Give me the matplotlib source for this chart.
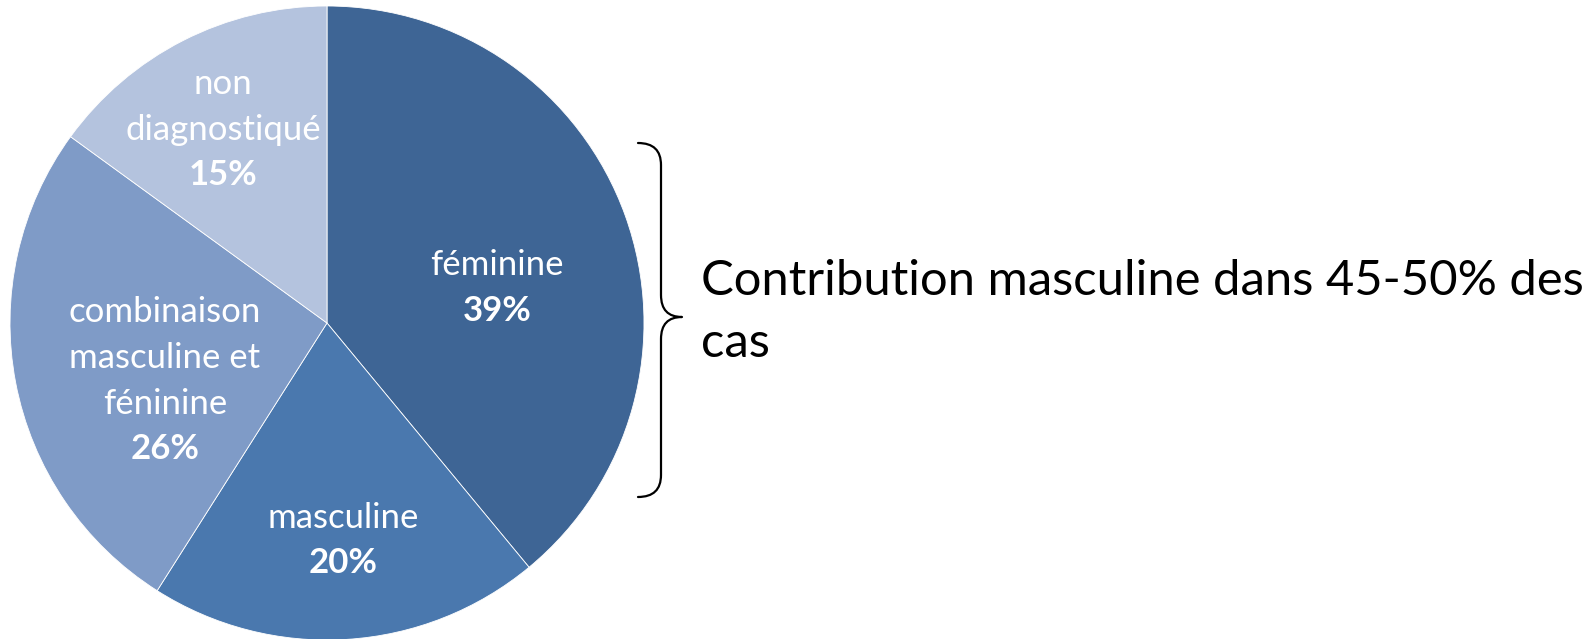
import numpy as np
import matplotlib
matplotlib.use('Agg')
import matplotlib.pyplot as plt
from matplotlib.path import Path
from matplotlib.patches import PathPatch

# ── Data ──────────────────────────────────────────────────────────────
categories = ['féminine', 'masculine', 'combinaison\nmasculine et\nféninine', 'non\ndiagnostiqué']
shares     = [39, 20, 26, 15]
colors     = ['#3E6595', '#4A78AE', '#7F9BC7', '#B4C3DE']
note_text  = 'Contribution masculine dans 45-50% des\ncas'

# label placement (fraction of radius, angle in degrees)
label_pos = [(0.55, 12.5), (0.68, -85.8), (0.54, 198.8), (0.70, 118.0)]

W, H = 1594, 639
CX, CY, R = 327, 323, 317
LABEL_FS = 25
LINE_STEP = 33   # points between label lines

def px(x, y):
    # pixel position -> pie units
    return (x - CX) / R, (CY - y) / R

plt.rcParams['font.family'] = ['Lato', 'DejaVu Sans']
fig = plt.figure(figsize=(W / 100, H / 100), dpi=100)
ax = fig.add_axes([0, 0, 1, 1])

ax.pie(shares, colors=colors, startangle=90, counterclock=False,
       radius=1.0, wedgeprops=dict(edgecolor='white', linewidth=0.6))
ax.set_aspect('auto')
x0, _ = px(0, 0)
x1, _ = px(W, 0)
_, y0 = px(0, H)
_, y1 = px(0, 0)
ax.set_xlim(x0, x1)
ax.set_ylim(y0, y1)
ax.axis('off')

for name, pct, (r, ang) in zip(categories, shares, label_pos):
    lx = r * np.cos(np.radians(ang))
    ly = r * np.sin(np.radians(ang))
    lines = name.split('\n') + [f'{pct}%']
    n = len(lines)
    for i, line in enumerate(lines):
        dy = ((n - 1) / 2 - i) * LINE_STEP - 0.36 * LABEL_FS
        ax.annotate(line, (lx, ly), xytext=(0, dy), textcoords='offset points',
                    ha='center', va='baseline', color='white', fontsize=LABEL_FS,
                    fontweight='bold' if i == n - 1 else 'normal')

# curly bracket
verts = [px(638, 143), px(661, 143), px(661, 165),
         px(661, 295),
         px(661, 317), px(682, 317),
         px(661, 317), px(661, 339),
         px(661, 475),
         px(661, 497), px(638, 497)]
codes = [Path.MOVETO, Path.CURVE3, Path.CURVE3,
         Path.LINETO,
         Path.CURVE3, Path.CURVE3,
         Path.CURVE3, Path.CURVE3,
         Path.LINETO,
         Path.CURVE3, Path.CURVE3]
ax.add_patch(PathPatch(Path(verts, codes), facecolor='none', edgecolor='black',
                       lw=1.6, capstyle='round', joinstyle='round'))

tx, ty = px(701, 312)
ax.text(tx, ty, note_text, ha='left', va='center', fontsize=35.3,
        linespacing=1.5, color='black')

plt.savefig('out.png', dpi=100)
